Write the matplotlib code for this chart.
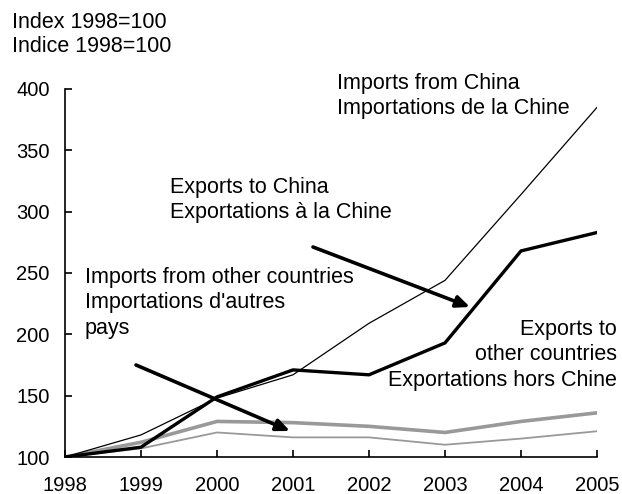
import matplotlib
matplotlib.use("Agg")
import matplotlib.pyplot as plt

# ---- data (index 1998=100) ----
years = [1998, 1999, 2000, 2001, 2002, 2003, 2004, 2005]
imports_china = [100, 118, 148, 167, 209, 244, 314, 385]
exports_china = [100, 108, 149, 171, 167, 193, 268, 283]
exports_other = [100, 112, 129, 128, 125, 120, 129, 136]
imports_other = [100, 107, 120, 116, 116, 110, 115, 121]

plt.rcParams["font.family"] = ["Liberation Sans", "DejaVu Sans"]
FS = 15.5      # annotation text
TFS = 14.5     # tick labels

fig = plt.figure(figsize=(6.22, 4.94), dpi=100)
ax = fig.add_axes([65 / 622, 1 - 457 / 494, (597 - 65) / 622, (457 - 89) / 494])

ax.plot(years, imports_other, color="#999999", lw=1.3, solid_joinstyle="miter")
ax.plot(years, exports_other, color="#999999", lw=2.6, solid_joinstyle="miter")
ax.plot(years, imports_china, color="black", lw=0.9, solid_joinstyle="miter")
ax.plot(years, exports_china, color="black", lw=2.4, solid_joinstyle="miter")

ax.set_xlim(1998, 2005)
ax.set_ylim(100, 400)
ax.set_xticks(years)
ax.set_yticks(range(100, 401, 50))
ax.tick_params(direction="in", length=5, width=1.2, labelsize=TFS)
ax.tick_params(axis="y", pad=11)
ax.tick_params(axis="x", pad=14)
for s in ["top", "right"]:
    ax.spines[s].set_visible(False)
for s in ["left", "bottom"]:
    ax.spines[s].set_linewidth(1.2)

# axis caption
fig.text(12 / 622, 1 - 22 / 494, "Index 1998=100", fontsize=FS, va="center")
fig.text(12 / 622, 1 - 46 / 494, "Indice 1998=100", fontsize=FS, va="center")

# series labels (placed in pixel coords of the figure)
def label(x, y, txt, ha="left"):
    fig.text(x / 622, 1 - y / 494, txt, fontsize=FS, ha=ha, va="top",
             linespacing=1.27, multialignment=ha)

label(337, 73, "Imports from China\nImportations de la Chine")
label(170, 177, "Exports to China\nExportations à la Chine")
label(85, 267, "Imports from other countries\nImportations d'autres\npays")
label(617, 319, "Exports to\nother countries\nExportations hors Chine", ha="right")

# arrows
arrow = dict(arrowstyle="-|>,head_length=0.8,head_width=0.35", color="black",
             lw=2.6, shrinkA=0, shrinkB=0)
ax.annotate("", xy=(290, 494 - 431), xycoords="figure pixels",
            xytext=(136, 494 - 365), textcoords="figure pixels", arrowprops=arrow)
ax.annotate("", xy=(470, 494 - 307), xycoords="figure pixels",
            xytext=(313, 494 - 247), textcoords="figure pixels", arrowprops=arrow)

fig.savefig("out.png", dpi=100)
